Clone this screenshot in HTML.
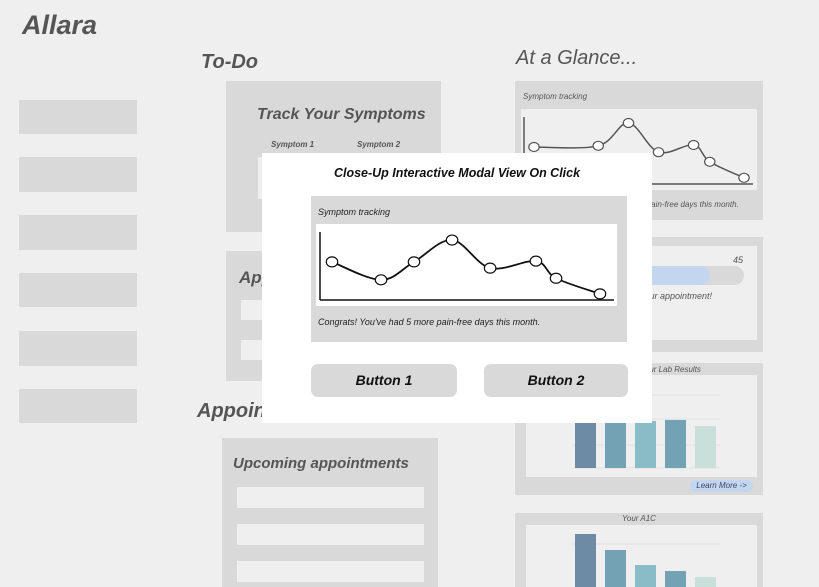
<!DOCTYPE html>
<html><head><meta charset="utf-8">
<style>
body{margin:0;width:819px;height:587px;background:#efefef;overflow:hidden;position:relative;font-family:"Liberation Sans",sans-serif;}
.a{position:absolute}
.g{background:#d9d9d9}
.l{background:#efefef}
.t{font-style:italic;color:#555;white-space:nowrap}
.b{font-weight:bold}
</style></head><body>
<div class="a t b" style="left:22px;top:10px;font-size:27px;">Allara</div>
<div class="a g" style="left:19px;top:100px;width:118px;height:34px"></div>
<div class="a g" style="left:19px;top:157px;width:118px;height:35px"></div>
<div class="a g" style="left:19px;top:215px;width:118px;height:35px"></div>
<div class="a g" style="left:19px;top:273px;width:118px;height:34px"></div>
<div class="a g" style="left:19px;top:331px;width:118px;height:35px"></div>
<div class="a g" style="left:19px;top:389px;width:118px;height:34px"></div>

<div class="a t b" style="left:201px;top:51px;font-size:20px;">To-Do</div>
<div class="a g" style="left:226px;top:81px;width:215px;height:151px"></div>
<div class="a t b" style="left:257px;top:106px;font-size:16px;">Track Your Symptoms</div>
<div class="a t b" style="left:271px;top:140px;font-size:8px;">Symptom 1</div>
<div class="a t b" style="left:357px;top:140px;font-size:8px;">Symptom 2</div>
<div class="a l" style="left:258px;top:157px;width:170px;height:42px"></div>

<div class="a g" style="left:226px;top:251px;width:215px;height:130px"></div>
<div class="a t b" style="left:239px;top:268px;font-size:17px;">Appointments</div>
<div class="a l" style="left:241px;top:300px;width:185px;height:20px"></div>
<div class="a l" style="left:241px;top:340px;width:185px;height:20px"></div>

<div class="a t b" style="left:197px;top:400px;font-size:20px;">Appointments</div>
<div class="a g" style="left:222px;top:438px;width:216px;height:149px"></div>
<div class="a t b" style="left:233px;top:455px;font-size:15px;">Upcoming appointments</div>
<div class="a l" style="left:237px;top:487px;width:187px;height:21px"></div>
<div class="a l" style="left:237px;top:524px;width:187px;height:21px"></div>
<div class="a l" style="left:237px;top:561px;width:187px;height:21px"></div>

<div class="a t" style="left:516px;top:47px;font-size:20px;">At a Glance...</div>
<div class="a g" style="left:515px;top:81px;width:248px;height:139px"></div>
<div class="a t" style="left:523px;top:92px;font-size:8px;">Symptom tracking</div>
<div class="a l" style="left:521px;top:109px;width:236px;height:81px"></div>
<div class="a t" style="left:604px;top:200px;font-size:8px;">had 5 more pain-free days this month.</div>

<div class="a g" style="left:515px;top:237px;width:248px;height:115px"></div>
<div class="a l" style="left:521px;top:246px;width:236px;height:94px"></div>
<div class="a t" style="left:733px;top:255px;font-size:9px;">45</div>
<div class="a" style="left:600px;top:266px;width:144px;height:19px;border-radius:10px;background:#d9d9d9"></div>
<div class="a" style="left:600px;top:266px;width:110px;height:19px;border-radius:10px;background:#c2d7ef"></div>
<div class="a t" style="left:640px;top:291px;font-size:9px;">your appointment!</div>

<div class="a g" style="left:515px;top:363px;width:248px;height:132px"></div>
<div class="a l" style="left:526px;top:375px;width:231px;height:102px"></div>
<div class="a t" style="left:640px;top:365px;font-size:8px;">Your Lab Results</div>
<div class="a" style="left:690px;top:480px;width:63px;height:12px;border-radius:6px;background:#c2d7ef;font-size:8px;font-style:italic;color:#446;text-align:center;line-height:12px">Learn More -&gt;</div>

<div class="a g" style="left:515px;top:513px;width:248px;height:74px"></div>
<div class="a l" style="left:526px;top:525px;width:231px;height:62px"></div>
<div class="a t" style="left:622px;top:514px;font-size:8px;">Your A1C</div>

<svg class="a" style="left:0;top:0" width="819" height="587">
<g id="bgline"></g>
<g id="lab"></g>
<g id="a1c"></g>
</svg>

<div class="a" style="left:262px;top:153px;width:390px;height:270px;background:#fff"></div>
<div class="a" style="left:262px;top:166px;width:390px;text-align:center;font-size:12.5px;font-weight:bold;font-style:italic;color:#111">Close-Up Interactive Modal View On Click</div>
<div class="a g" style="left:311px;top:196px;width:316px;height:146px"></div>
<div class="a" style="left:318px;top:207px;font-size:9px;font-style:italic;color:#222">Symptom tracking</div>
<div class="a" style="left:316px;top:224px;width:301px;height:82px;background:#fff"></div>
<div class="a" style="left:318px;top:317px;font-size:9px;font-style:italic;color:#222">Congrats! You've had 5 more pain-free days this month.</div>
<div class="a g" style="left:311px;top:364px;width:146px;height:33px;border-radius:7px;text-align:center;line-height:33px;font-size:14px;font-weight:bold;font-style:italic;color:#111">Button 1</div>
<div class="a g" style="left:484px;top:364px;width:144px;height:33px;border-radius:7px;text-align:center;line-height:33px;font-size:14px;font-weight:bold;font-style:italic;color:#111">Button 2</div>

<svg class="a" style="left:0;top:0" width="819" height="587">
<g id="mline"></g>
</svg>

<script>
// modal symptom series
const modalX=[0,0.183,0.306,0.448,0.59,0.761,0.836,1.0];
const modalVals=[5.4,3.1,5.4,8.2,4.6,5.5,3.3,1.3];
// glance symptom series (background)
const bgX=[0,0.306,0.45,0.593,0.76,0.837,1.0];
const bgVals=[5.75,5.9,8.75,5.1,6.0,3.9,1.9];
// lab results
const labVals=[47,47,47,48,42];
// a1c
const a1cVals=[53,37,22,16,10];

const NS="http://www.w3.org/2000/svg";
function mk(p,t,a){const e=document.createElementNS(NS,t);for(const k in a)e.setAttribute(k,a[k]);p.appendChild(e);return e;}
function smooth(pts){let d="M"+pts[0][0]+","+pts[0][1];for(let i=0;i<pts.length-1;i++){const p0=pts[i-1]||pts[i],p1=pts[i],p2=pts[i+1],p3=pts[i+2]||p2;const c1=[p1[0]+(p2[0]-p0[0])/6,p1[1]+(p2[1]-p0[1])/6],c2=[p2[0]-(p3[0]-p1[0])/6,p2[1]-(p3[1]-p1[1])/6];d+=` C${c1[0]},${c1[1]} ${c2[0]},${c2[1]} ${p2[0]},${p2[1]}`;}return d;}
function lineChart(g,xs,vs,x0,x1,yb,yt,ax,col,sw,r){
  const X=v=>x0+v*(x1-x0),Y=v=>yb-v/10*(yb-yt);
  const a1=mk(g,"line",{x1:ax[0],y1:ax[1],x2:ax[0],y2:ax[3],stroke:col,"stroke-width":1.5});
  
  
  const a2=mk(g,"line",{x1:ax[0],y1:ax[3],x2:ax[2],y2:ax[3],stroke:col,"stroke-width":1.5});
  
  
  const pts=xs.map((x,i)=>[X(x),Y(vs[i])]);
  const p=mk(g,"path",{d:smooth(pts),fill:"none",stroke:col,"stroke-width":sw});
  
  
  pts.forEach(q=>{const c=mk(g,"ellipse",{cx:q[0],cy:q[1],rx:r*1.15,ry:r,fill:"#fff",stroke:col,"stroke-width":1.2});
    
    });
}
lineChart(document.getElementById('bgline'),bgX,bgVals,534,744,193,113,[524,117,753,184],"#555",1.5,4.5);
lineChart(document.getElementById('mline'),modalX,modalVals,332,600,304,226,[320,232,614,300],"#111",1.8,5);
function bars(g,vals,bottom,scale,lines){
  const cols=["#6e8ba5","#73a2b5","#8abcc8","#73a2b5","#c9e0da"];
  lines.forEach(y=>{const l=mk(g,"line",{x1:572,y1:y,x2:720,y2:y,stroke:"#e2e2e2","stroke-width":1});
    
    });
  vals.forEach((v,i)=>{const h=v*scale;const b=mk(g,"rect",{x:575+i*30,y:bottom-h,width:21,height:h,fill:cols[i]});
    
    });
}
bars(document.getElementById('lab'),labVals,468,1,[395,419,445,468]);
bars(document.getElementById('a1c'),a1cVals,587,1,[544]);
</script>
</body></html>
